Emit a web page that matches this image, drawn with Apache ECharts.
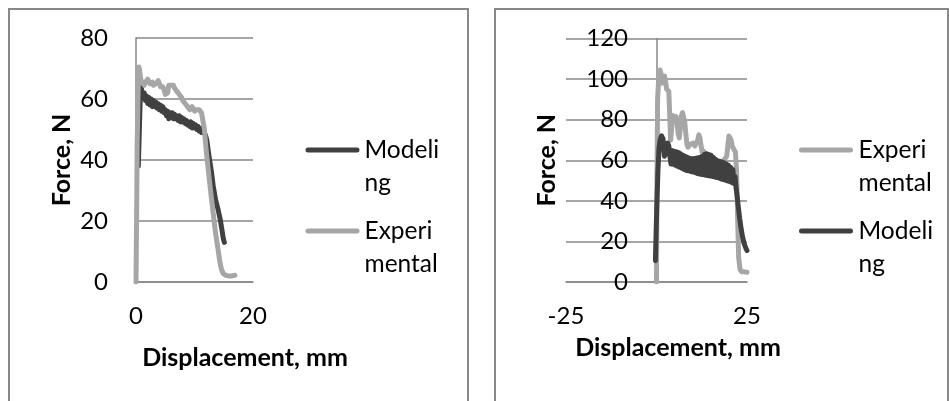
<!DOCTYPE html>
<html>
<head>
<meta charset="utf-8">
<script src="https://cdn.jsdelivr.net/npm/echarts@6/dist/echarts.min.js"></script>
<style>
  html, body { margin: 0; padding: 0; background: #fff; }
  #chart { width: 949px; height: 401px; }
</style>
</head>
<body>
<div id="chart"></div>
<script>
// left chart: [displacement mm, force N]
const leftModeling = [
  [0.4, 38], [0.6, 52], [0.8, 64.8], [1.0, 62.5], [1.2, 61], [1.4, 62], [1.6, 59.5], [1.8, 61],
  [2.0, 58.5], [2.2, 60.5], [2.4, 58], [2.6, 60], [2.8, 57.5], [3.0, 59.5], [3.2, 57.5], [3.4, 59],
  [3.6, 57], [3.8, 58.5], [4.0, 56.5], [4.2, 58], [4.4, 56], [4.6, 57.5], [4.8, 55.5], [5.0, 56.5],
  [5.2, 54.5], [5.4, 56], [5.6, 53.5], [5.8, 55.5], [6.0, 54], [6.2, 55.5], [6.4, 53.5], [6.6, 55],
  [6.8, 53.5], [7.0, 54.5], [7.2, 53], [7.4, 54.5], [7.6, 52.5], [7.8, 54], [8.0, 52.5], [8.2, 53.5],
  [8.4, 52], [8.6, 53], [8.8, 51.5], [9.0, 52.5], [9.2, 51], [9.4, 52.5], [9.6, 50.5], [9.8, 52],
  [10.0, 50.5], [10.2, 51.5], [10.4, 50], [10.6, 51], [10.8, 49.5], [11.0, 50.5], [11.2, 49], [11.4, 50],
  [11.6, 49.5], [11.9, 48], [12.1, 46.5], [12.5, 41], [12.9, 36], [13.2, 31.5], [13.6, 27], [14.0, 24],
  [14.4, 20.5], [14.7, 17], [14.9, 14.5], [15.1, 13]
];
const leftExperimental = [
  [0, 0], [0.1, 20], [0.2, 45], [0.35, 62], [0.5, 70.5], [0.65, 69], [0.8, 66.5], [1.0, 65.5],
  [1.2, 66], [1.4, 64.5], [1.6, 65.5], [1.8, 65], [2.0, 66.5], [2.2, 66], [2.4, 65], [2.6, 64.5],
  [2.8, 65.5], [3.0, 64.5], [3.2, 64], [3.4, 65], [3.6, 65.5], [3.8, 66], [4.0, 65], [4.2, 64],
  [4.4, 63.5], [4.6, 64], [4.8, 63], [5.0, 61.5], [5.2, 61], [5.4, 62], [5.6, 64.5], [5.8, 65],
  [6.0, 64.5], [6.2, 64], [6.4, 64.5], [6.6, 63.5], [6.8, 63], [7.0, 62.5], [7.2, 62.5], [7.4, 61.5],
  [7.6, 61], [7.8, 60.5], [8.0, 59.5], [8.2, 59], [8.4, 58.5], [8.6, 58], [8.8, 57.5], [9.0, 57],
  [9.2, 56.5], [9.4, 57], [9.6, 57.5], [9.8, 57], [10.0, 56], [10.2, 56.5], [10.4, 56.5], [10.6, 57],
  [10.8, 56.5], [11.0, 56], [11.2, 55.5], [11.5, 55], [11.7, 50], [12.0, 43], [12.4, 36], [12.8, 29],
  [13.2, 22.5], [13.6, 16], [14.0, 11], [14.3, 7], [14.6, 4.2], [14.9, 2.8], [15.3, 2.2], [15.8, 2],
  [16.4, 2], [16.9, 2.2]
];

// right chart
const rightExperimental = [
  [0, 0], [0.1, 40], [0.3, 89.8], [0.6, 100], [1.0, 104.5], [1.3, 102], [1.6, 98], [1.9, 100.5],
  [2.2, 101.5], [2.5, 99], [2.8, 95], [3.1, 95.5], [3.4, 94], [3.7, 80], [3.9, 70], [4.2, 76],
  [4.5, 82], [4.8, 82.5], [5.1, 80], [5.4, 81.5], [5.7, 78], [6.0, 73], [6.3, 71], [6.6, 76],
  [6.9, 82], [7.2, 83.5], [7.5, 81], [7.8, 79], [8.1, 73], [8.4, 68], [8.7, 66.5], [9.0, 67],
  [9.4, 68], [9.8, 67.5], [10.2, 68.5], [10.6, 67], [11.0, 67.5], [11.4, 70], [11.7, 72.5], [12.0, 71],
  [12.4, 66], [12.7, 63.5], [13.0, 64.5], [13.4, 63], [13.8, 62.5], [14.2, 63], [14.6, 62], [15.0, 62.5],
  [15.4, 61.5], [15.8, 61], [16.2, 60.5], [16.6, 60], [17.0, 59.5], [17.4, 59], [17.8, 58.5], [18.2, 59],
  [18.6, 60], [19.0, 60.5], [19.4, 62], [19.7, 67], [20.0, 72], [20.3, 72.5], [20.6, 70], [20.9, 67],
  [21.2, 66], [21.5, 65], [21.8, 64], [22.1, 55], [22.4, 32], [22.7, 12], [23.1, 6], [23.6, 5],
  [24.3, 5], [25.0, 4.8]
];
const rightModeling = [
  [-0.3, 10.5], [-0.1, 25], [0.1, 38], [0.4, 55], [0.7, 66], [1.0, 70], [1.4, 72], [1.8, 70.5],
  [2.0, 66], [2.2, 62], [2.5, 63.5], [2.8, 67], [3.1, 68.5], [3.4, 67], [3.7, 62],
  [4.0, 58.2], [4.3, 64.8], [4.6, 58], [4.9, 64.5], [5.2, 57.5], [5.5, 64.2], [5.8, 57], [6.1, 63.8],
  [6.4, 56.5], [6.7, 63.2], [7.0, 56], [7.3, 62.5], [7.6, 55.5], [7.9, 62], [8.2, 55], [8.5, 61.5],
  [8.8, 54.8], [9.1, 61], [9.4, 54.5], [9.7, 60.8], [10.0, 54.2], [10.3, 60.8], [10.6, 54], [10.9, 61],
  [11.2, 53.5], [11.5, 61.2], [11.8, 53.2], [12.1, 61.5], [12.4, 53], [12.7, 62], [13.0, 52.8], [13.3, 63],
  [13.6, 52.6], [13.9, 63.2], [14.2, 52.4], [14.5, 62.8], [14.8, 52.2], [15.1, 62.5], [15.4, 52], [15.7, 61.5],
  [16.0, 51.8], [16.3, 60.5], [16.6, 51.5], [16.9, 59.8], [17.2, 51.2], [17.5, 59.5], [17.8, 50.8], [18.1, 59.2],
  [18.4, 50.5], [18.7, 58.8], [19.0, 50.2], [19.3, 58.2], [19.6, 49.8], [19.9, 57.5], [20.2, 49.5], [20.5, 56.5],
  [20.8, 49], [21.1, 55.5], [21.4, 48.5], [21.7, 52], [22.0, 46], [22.3, 42], [22.6, 37], [23.0, 31],
  [23.4, 26], [23.8, 22], [24.2, 19], [24.6, 17], [25.0, 15.5]
];

const legendLabels = { Modeling: 'Modeli\nng', Experimental: 'Experi\nmental' };

const DARK = '#404040';
const LIGHT = '#a6a6a6';
const AXIS = '#878787';
const FONT = 'Lato';

// legend line sits on the first text line (item is two text lines tall)
const legendIcon = 'path://M0,0L0.01,0Z M2.5,14L51.5,14A2.5,2.5 0 0 1 51.5,19L2.5,19A2.5,2.5 0 0 1 2.5,14Z M54,66L54,65.99Z';

// nameShift: the axis title is centred on the chart box, not on the plot
function xAxisOf(idx, min, max, interval, nameGap, nameShift) {
  return {
    type: 'value', gridIndex: idx, min: min, max: max, interval: interval,
    name: 'Displacement, mm', nameLocation: 'middle', nameGap: nameGap, nameMoveOverlap: false,
    nameTextStyle: { fontFamily: FONT, fontWeight: 'bold', fontSize: 25, color: '#000', padding: [0, 0, 0, nameShift * 2] },
    axisLine: { lineStyle: { color: AXIS, width: 1.5 } },
    axisTick: { show: false },
    axisLabel: { margin: 22, fontFamily: FONT, fontSize: 24, color: '#000' },
    splitLine: { show: false }
  };
}
function yAxisOf(idx, max, labelMargin, nameGap) {
  return {
    type: 'value', gridIndex: idx, min: 0, max: max, interval: 20,
    name: 'Force, N', nameLocation: 'middle', nameGap: nameGap, nameMoveOverlap: false,
    nameTextStyle: { fontFamily: FONT, fontWeight: 'bold', fontSize: 25, color: '#000' },
    axisLine: { show: true, lineStyle: { color: AXIS, width: 1.5 } },
    axisTick: { show: false },
    axisLabel: { margin: labelMargin, fontFamily: FONT, fontSize: 24, color: '#000' },
    splitLine: { show: true, lineStyle: { color: AXIS, width: 1.5 } }
  };
}
function lineSeries(name, idx, data, color) {
  return {
    type: 'line', name: name, xAxisIndex: idx, yAxisIndex: idx, data: data,
    showSymbol: false, symbol: 'none', smooth: false,
    color: color,
    lineStyle: { color: color, width: 5, cap: 'round', join: 'round' }
  };
}
function legendOf(left, names, iconW) {
  return {
    left: left, top: 133.5, orient: 'vertical', padding: 0, itemGap: 15,
    itemWidth: iconW, itemHeight: 66, icon: legendIcon,
    selectedMode: false,
    data: names,
    formatter: function (n) { return legendLabels[n]; },
    textStyle: { fontFamily: FONT, fontSize: 24.5, lineHeight: 33, color: '#000' }
  };
}

const chart = echarts.init(document.getElementById('chart'));
chart.setOption({
  animation: false,
  backgroundColor: '#fff',
  grid: [
    { left: 136, top: 38, width: 117, height: 244 },
    { left: 566, top: 38.5, width: 181, height: 243.5 }
  ],
  xAxis: [xAxisOf(0, 0, 20, 20, 63, 50.5), xAxisOf(1, -25, 25, 50, 53, 21.5)],
  yAxis: [yAxisOf(0, 80, 28, 62), yAxisOf(1, 120, -62, 7)],
  legend: [
    legendOf(305.5, ['Modeling', 'Experimental'], 54),
    legendOf(799, ['Experimental', 'Modeling'], 55)
  ],
  graphic: [
    { type: 'rect', shape: { x: 9, y: 9, width: 459, height: 420 }, style: { fill: 'none', stroke: '#888', lineWidth: 2 }, silent: true },
    { type: 'rect', shape: { x: 495, y: 9, width: 453, height: 420 }, style: { fill: 'none', stroke: '#888', lineWidth: 2 }, silent: true }
  ],
  series: [
    lineSeries('Modeling', 0, leftModeling, DARK),
    lineSeries('Experimental', 0, leftExperimental, LIGHT),
    lineSeries('Experimental', 1, rightExperimental, LIGHT),
    lineSeries('Modeling', 1, rightModeling, DARK)
  ]
});
</script>
</body>
</html>
